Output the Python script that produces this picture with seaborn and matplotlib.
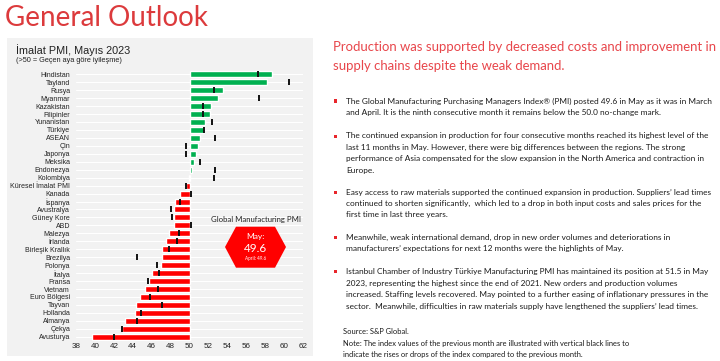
import matplotlib
matplotlib.use('Agg')
import matplotlib.pyplot as plt
from matplotlib.patches import Rectangle, Polygon
import numpy as np
import pandas as pd
import seaborn as sns

# PMI values, May 2023 (bars) and April 2023 (black ticks)
countries = ['Hindistan', 'Tayland', 'Rusya', 'Myanmar', 'Kazakistan', 'Filipinler',
             'Yunanistan', 'Türkiye', 'ASEAN', 'Çin', 'Japonya', 'Meksika', 'Endonezya',
             'Kolombiya', 'Küresel İmalat PMI', 'Kanada', 'İspanya', 'Avustralya',
             'Güney Kore', 'ABD', 'Malezya', 'İrlanda', 'Birleşik Krallık', 'Brezilya',
             'Polonya', 'İtalya', 'Fransa', 'Vietnam', 'Euro Bölgesi', 'Tayvan',
             'Hollanda', 'Almanya', 'Çekya', 'Avusturya']
may_values = [58.7, 58.2, 53.5, 53.0, 52.3, 52.2, 51.6, 51.5, 51.1, 50.9, 50.7, 50.5, 50.3,
              49.9, 49.6, 49.0, 48.5, 48.4, 48.4, 48.4, 47.8, 47.5, 47.1, 47.1,
              47.0, 46.0, 45.7, 45.3, 44.8, 44.3, 44.2, 43.2, 42.9, 39.7]
april_values = [57.2, 60.5, 52.6, 57.4, 51.4, 51.4, 52.4, 51.5, 52.7, 49.6, 49.6, 51.1, 52.7,
                52.6, 49.6, 50.2, 49.0, 48.0, 48.1, 50.2, 48.9, 48.7, 47.8, 44.4,
                46.6, 46.8, 45.6, 46.7, 45.8, 47.1, 44.9, 44.5, 42.9, 42.0]
x_ticks = list(range(38, 63, 2))

heading = ['Production was supported by decreased costs and improvement in',
           'supply chains despite the weak demand.']
bullets = [
    ['The Global Manufacturing Purchasing Managers Index® (PMI) posted 49.6 in May as it was in March',
     'and April. It is the ninth consecutive month it remains below the 50.0 no-change mark.'],
    ['The continued expansion in production for four consecutive months reached its highest level of the',
     'last 11 months in May. However, there were big differences between the regions. The strong',
     'performance of Asia compensated for the slow expansion in the North America and contraction in',
     'Europe.'],
    ['Easy access to raw materials supported the continued expansion in production. Suppliers’ lead times',
     'continued to shorten significantly,  which led to a drop in both input costs and sales prices for the',
     'first time in last three years.'],
    ['Meanwhile, weak international demand, drop in new order volumes and deteriorations in',
     'manufacturers’ expectations for next 12 months were the highlights of May.'],
    ['Istanbul Chamber of Industry Türkiye Manufacturing PMI has maintained its position at 51.5 in May',
     '2023, representing the highest since the end of 2021. New orders and production volumes',
     'increased. Staffing levels recovered. May pointed to a further easing of inflationary pressures in the',
     'sector.  Meanwhile, difficulties in raw materials supply have lengthened the suppliers’ lead times.'],
]
note_lines = ['Note: The index values of the previous month are illustrated with vertical black lines to',
              'indicate the rises or drops of the index compared to the previous month.']

sns.set_theme(style='white')
plt.rcParams['font.family'] = ['Liberation Sans', 'DejaVu Sans']

W, H = 720, 361
fig = plt.figure(figsize=(W / 100, H / 100), dpi=100)
renderer = fig.canvas.get_renderer()


# helpers to place things in slide pixel coordinates (origin top-left)
def fx(px):
    return px / W


def fy(py):
    return 1 - py / H


def fit_width(texts, target_px):
    # scale a group of texts together so the widest one spans target_px
    widest = max(t.get_window_extent(renderer).width for t in texts)
    for t in texts:
        t.set_fontsize(t.get_fontsize() * target_px / widest)


# grey background panel of the chart
fig.add_artist(Rectangle((fx(7), fy(356)), fx(313) - fx(7), fy(38) - fy(356),
                         transform=fig.transFigure, facecolor='#f2f2f2',
                         edgecolor='none', zorder=0))

df = pd.DataFrame({'country': countries, 'may': may_values, 'april': april_values})
df['diff'] = df['may'] - 50
df['prev'] = df['april'] - 50
df['side'] = np.where(df['may'] >= 50, 'up', 'down')

ax = fig.add_axes([fx(76), fy(340.7), fx(303) - fx(76), fy(70.3) - fy(340.7)])
ax.set_facecolor('none')
sns.barplot(data=df, x='diff', y='country', hue='side',
            palette={'up': '#00b050', 'down': '#ff0000'}, dodge=False,
            width=0.75, saturation=1, legend=False, orient='h', ax=ax, zorder=2)
sns.scatterplot(data=df, x='prev', y='country', marker='|', s=20, color='#111111',
                linewidth=1.4, ax=ax, zorder=3, legend=False)

ax.set_xlim(-12, 12)
ax.set_ylim(len(countries) - 0.5, -0.5)
ax.set_xticks([t - 50 for t in x_ticks])
ax.set_xticklabels([str(t) for t in x_ticks])
ax.grid(axis='y', color='white', linewidth=0.8)
ax.set_axisbelow(True)
ax.set_xlabel('')
ax.set_ylabel('')
sns.despine(ax=ax, left=True, bottom=True)
ax.tick_params(axis='x', length=0, pad=2, labelsize=5.8, labelcolor='#222222')
ax.tick_params(axis='y', length=0, pad=4.3, labelsize=5.0, labelcolor='#222222')

# chart titles
fig.text(fx(16), fy(50), 'İmalat PMI, Mayıs 2023', va='center', ha='left',
         fontsize=7.8, color='#222222')
fig.text(fx(16), fy(61), '(>50 = Geçen aya göre iyileşme)', va='center', ha='left',
         fontsize=5.3, color='#222222')

# global PMI badge
fig.text(fx(256), fy(220), 'Global Manufacturing PMI', ha='center', va='center',
         fontsize=5.6, family='Lato', color='#222222')
hexagon = [(225, 247), (236, 226.7), (275, 226.7), (286, 247), (275, 267.7), (236, 267.7)]
fig.add_artist(Polygon([(fx(px), fy(py)) for px, py in hexagon], closed=True,
                       transform=fig.transFigure, facecolor='#ff0000', edgecolor='none'))
fig.text(fx(255.5), fy(237), 'May:', ha='center', va='center', fontsize=6,
         family='Lato', color='white')
fig.text(fx(255.5), fy(248), '49.6', ha='center', va='center', fontsize=8.5,
         family='Lato', color='white')
fig.text(fx(255.5), fy(258.5), 'April: 49.6', ha='center', va='center', fontsize=3.3,
         family='Lato', color='white')

# slide title and heading
fig.text(fx(5), fy(26), 'General Outlook', ha='left', va='baseline', fontsize=20,
         family='Lato', color='#dc3a3c')
head_texts = [fig.text(fx(333), fy(47 + 19 * i), line, ha='left', va='center',
                       fontsize=9.3, family='Lato', color='#e8464b')
              for i, line in enumerate(heading)]
fit_width(head_texts, 379)

# bullet points
starts = [101, 136, 192, 237, 271.5]
body_texts = []
for start, lines in zip(starts, bullets):
    fig.add_artist(Rectangle((fx(333.5), fy(start + 1.5)), 3 / W, 3 / H,
                             transform=fig.transFigure, facecolor='#e8262b',
                             edgecolor='none'))
    for j, line in enumerate(lines):
        body_texts.append(fig.text(fx(346.5), fy(start + 11.5 * j), line, ha='left',
                                   va='center', fontsize=6.4, family='Lato',
                                   color='#1a1a1a'))
fit_width(body_texts, 365)

source_text = fig.text(fx(343), fy(331), 'Source: S&P Global.', ha='left', va='center',
                       fontsize=5.6, family='Lato', color='#1a1a1a')
note_texts = [fig.text(fx(343), fy(343.5 + 10.5 * j), line, ha='left', va='center',
                       fontsize=5.6, family='Lato', color='#1a1a1a')
              for j, line in enumerate(note_lines)]
fit_width(note_texts, 284)
source_text.set_fontsize(note_texts[0].get_fontsize())

fig.savefig('out.png', dpi=100, facecolor='white')
